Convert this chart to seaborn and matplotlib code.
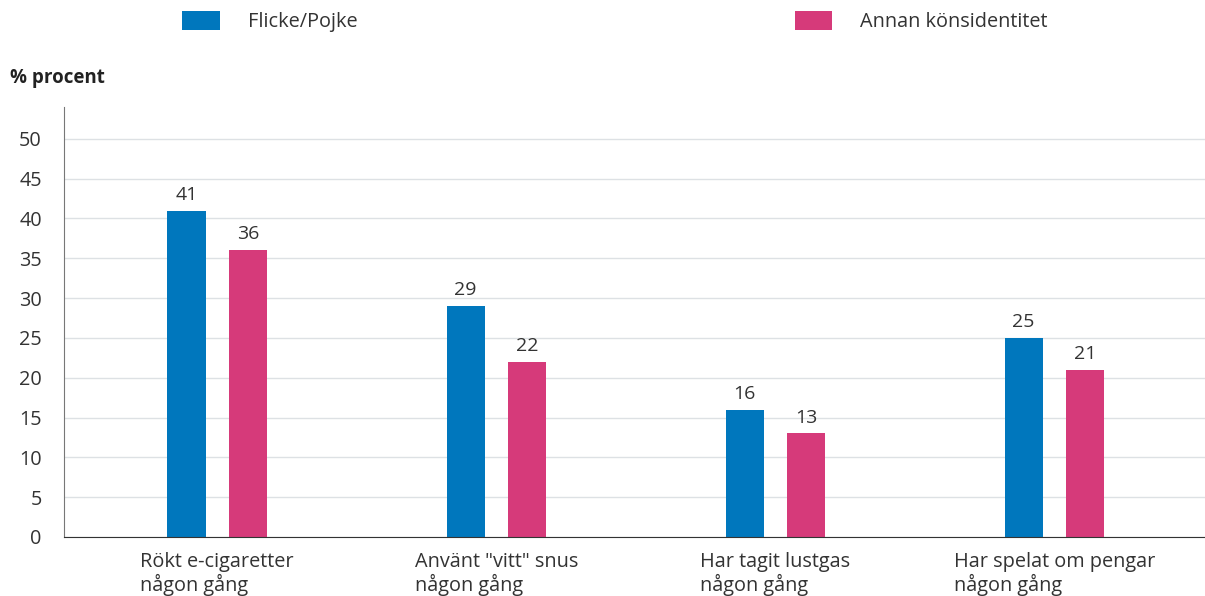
import pandas as pd
import matplotlib.pyplot as plt
import seaborn as sns

# Data
categories = ['Rökt e-cigaretter\nnågon gång', 'Använt "vitt" snus\nnågon gång',
              'Har tagit lustgas\nnågon gång', 'Har spelat om pengar\nnågon gång']
groups = ['Flicke/Pojke', 'Annan könsidentitet']
flicke_pojke = [41, 29, 16, 25]
annan = [36, 22, 13, 21]
yticks = [0, 5, 10, 15, 20, 25, 30, 35, 40, 45, 50]

df = pd.DataFrame({
    'Kategori': categories * 2,
    'Grupp': [groups[0]] * 4 + [groups[1]] * 4,
    'Procent': flicke_pojke + annan,
})

sns.set_style('white')
plt.rcParams['font.family'] = ['Open Sans', 'DejaVu Sans']
text_color = '#333333'
fs = 14.3

fig = plt.figure(figsize=(12.05, 5.96), dpi=100)
ax = fig.add_axes([64 / 1205, 1 - 537 / 596, 1 - 64 / 1205, (537 - 107) / 596])

sns.barplot(data=df, x='Kategori', y='Procent', hue='Grupp', order=categories,
            hue_order=groups, palette=['#0077BD', '#D63A7A'], saturation=1,
            width=0.44, gap=0.38, linewidth=0, ax=ax, errorbar=None)

for cont in ax.containers:
    ax.bar_label(cont, fmt='%d', padding=5, fontsize=14, color=text_color)

handles, labels = ax.get_legend_handles_labels()
ax.get_legend().remove()
fig.legend(handles, labels, ncol=2, loc='upper left',
           bbox_to_anchor=(182 / 1205, 1 - 11 / 596), frameon=False,
           fontsize=fs, handlelength=1.91, handleheight=1.11, handletextpad=1.41,
           columnspacing=22.0, borderpad=0, borderaxespad=0, labelcolor=text_color)

ax.set_xlim(-0.549, 3.54)
ax.set_ylim(0, 54)
ax.set_yticks(yticks)
ax.yaxis.grid(True, color='#dde1e4', linewidth=1)
ax.set_axisbelow(True)
ax.set_xlabel('')
ax.set_ylabel('')
for side in ['top', 'right']:
    ax.spines[side].set_visible(False)
ax.spines['left'].set_color('#777777')
ax.spines['bottom'].set_color('#333333')
ax.tick_params(axis='y', length=0, pad=16, labelsize=fs, labelcolor=text_color)
ax.tick_params(axis='x', length=0, pad=11, labelsize=fs, labelcolor=text_color)
for lab in ax.get_xticklabels():
    lab.set_multialignment('left')
    lab.set_linespacing(1.1)

fig.text(10 / 1205, 1 - 78 / 596, '% procent', fontsize=13.5, fontweight='bold',
         color='#222222', va='center', ha='left')

plt.savefig('out.png', dpi=100)
